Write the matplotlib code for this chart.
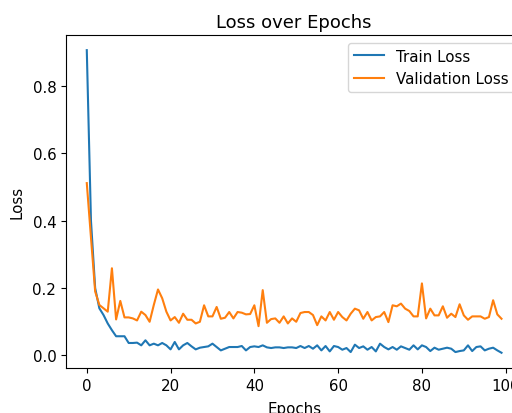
import matplotlib
matplotlib.use("Agg")
import matplotlib.pyplot as plt

# Loss values, one per epoch (0..99)
train_loss = [
    0.907, 0.40, 0.20, 0.14, 0.12, 0.095, 0.075, 0.057, 0.057, 0.057,
    0.037, 0.037, 0.038, 0.030, 0.045, 0.030, 0.035, 0.030, 0.037, 0.030,
    0.018, 0.040, 0.018, 0.030, 0.037, 0.027, 0.018, 0.023, 0.025, 0.027,
    0.035, 0.025, 0.015, 0.020, 0.025, 0.025, 0.025, 0.028, 0.015, 0.025,
    0.027, 0.025, 0.030, 0.024, 0.022, 0.024, 0.024, 0.022, 0.024, 0.024,
    0.022, 0.028, 0.022, 0.028, 0.020, 0.030, 0.015, 0.028, 0.012, 0.028,
    0.025, 0.017, 0.022, 0.010, 0.032, 0.022, 0.027, 0.017, 0.025, 0.012,
    0.035, 0.025, 0.018, 0.025, 0.017, 0.027, 0.022, 0.017, 0.030, 0.018,
    0.030, 0.025, 0.013, 0.023, 0.017, 0.020, 0.023, 0.020, 0.010, 0.013,
    0.015, 0.030, 0.013, 0.025, 0.027, 0.015, 0.020, 0.023, 0.015, 0.008,
]
val_loss = [
    0.512, 0.35, 0.19, 0.15, 0.14, 0.13, 0.259, 0.107, 0.162, 0.113,
    0.113, 0.110, 0.104, 0.130, 0.120, 0.100, 0.150, 0.196, 0.170, 0.130,
    0.104, 0.114, 0.097, 0.124, 0.106, 0.106, 0.095, 0.100, 0.149, 0.116,
    0.116, 0.144, 0.109, 0.112, 0.129, 0.110, 0.129, 0.127, 0.122, 0.123,
    0.149, 0.087, 0.194, 0.097, 0.108, 0.110, 0.097, 0.116, 0.095, 0.110,
    0.100, 0.126, 0.129, 0.129, 0.120, 0.090, 0.116, 0.104, 0.129, 0.106,
    0.129, 0.114, 0.104, 0.124, 0.139, 0.134, 0.109, 0.129, 0.104, 0.114,
    0.116, 0.129, 0.099, 0.149, 0.146, 0.154, 0.139, 0.132, 0.116, 0.116,
    0.214, 0.110, 0.139, 0.119, 0.119, 0.146, 0.112, 0.124, 0.114, 0.152,
    0.119, 0.106, 0.116, 0.116, 0.116, 0.109, 0.114, 0.164, 0.122, 0.109,
]
epochs = list(range(len(train_loss)))

# reference text is a little larger than the default 10pt
plt.rcParams['font.size'] = 10.8

fig = plt.figure(figsize=(5.12, 4.14), dpi=100)
# the reference is cropped on the right, so the axes run past the figure edge
ax = fig.add_axes([0.129, 0.109, 0.891, 0.804])

ax.plot(epochs, train_loss, label="Train Loss")
ax.plot(epochs, val_loss, label="Validation Loss")

ax.set_title("Loss over Epochs", fontsize=13)
ax.set_xlabel("Epochs", labelpad=6)
ax.set_ylabel("Loss", labelpad=6)
ax.legend(loc="upper right")

fig.savefig("out.png", dpi=100)
